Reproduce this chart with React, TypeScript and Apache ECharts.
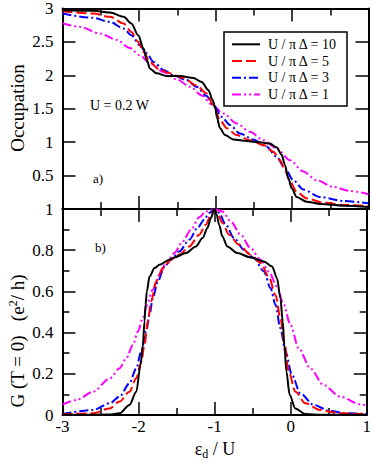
import React, { useEffect, useRef } from "react";
import * as echarts from "echarts";

// ---- Data ----
const seriesNames = ["U / π Δ = 10", "U / π Δ = 5", "U / π Δ = 3", "U / π Δ = 1"];
const seriesColors = ["#000000", "#ff0000", "#0000ff", "#ff00ff"];
const xTickLabels = ["-3", "-2", "-1", "0", "1"];

// Panel a) Occupation
const occ10X = [-3, -2.6, -2.38, -2.2, -2.1, -2.01, -1.94, -1.9, -1.856, -1.77, -1.64, -1.46, -1.29, -1.18, -1.094, -1.037, -1.0, -0.984, -0.941, -0.876, -0.767, -0.59, -0.42, -0.29, -0.2, -0.135, -0.092, -0.048, -0.004, 0.061, 0.19, 0.37, 0.67, 1.0];
const occ10Y = [2.975, 2.965, 2.94, 2.875, 2.775, 2.6, 2.4, 2.23, 2.1, 2.03, 1.99, 1.99, 1.96, 1.9, 1.78, 1.63, 1.5, 1.38, 1.21, 1.106, 1.04, 1.016, 0.997, 0.98, 0.92, 0.81, 0.66, 0.46, 0.31, 0.18, 0.11, 0.075, 0.05, 0.03];

const occ5X = [-3, -2.6, -2.38, -2.2, -2.1, -2.01, -1.94, -1.856, -1.75, -1.6, -1.42, -1.25, -1.115, -1.03, -0.941, -0.854, -0.723, -0.549, -0.375, -0.244, -0.157, -0.092, -0.026, 0.061, 0.19, 0.41, 0.67, 1.0];
const occ5Y = [2.96, 2.925, 2.875, 2.775, 2.65, 2.5, 2.35, 2.2, 2.1, 2.03, 1.96, 1.85, 1.73, 1.555, 1.33, 1.21, 1.106, 1.03, 0.957, 0.857, 0.73, 0.58, 0.41, 0.26, 0.16, 0.095, 0.06, 0.045];

const occ3X = [-3, -2.6, -2.38, -2.2, -2.1, -1.99, -1.9, -1.81, -1.68, -1.53, -1.38, -1.25, -1.115, -1.03, -0.92, -0.81, -0.68, -0.506, -0.331, -0.2, -0.092, 0.017, 0.148, 0.366, 0.671, 1.0];
const occ3Y = [2.925, 2.86, 2.8, 2.7, 2.6, 2.45, 2.33, 2.2, 2.08, 1.99, 1.93, 1.83, 1.69, 1.555, 1.38, 1.256, 1.13, 1.04, 0.93, 0.78, 0.61, 0.43, 0.29, 0.18, 0.12, 0.085];

const occ1X = [-3, -2.77, -2.51, -2.29, -2.12, -1.99, -1.856, -1.68, -1.51, -1.33, -1.18, -1.05, -0.898, -0.723, -0.549, -0.375, -0.2, -0.026, 0.148, 0.323, 0.54, 0.758, 1.0];
const occ1Y = [2.78, 2.725, 2.625, 2.53, 2.41, 2.3, 2.18, 2.05, 1.94, 1.83, 1.7, 1.565, 1.43, 1.28, 1.155, 1.03, 0.907, 0.73, 0.56, 0.43, 0.33, 0.27, 0.22];

// Panel b) Conductance G(T=0)
const g10X = [-3, -2.38, -2.25, -2.12, -2.03, -1.974, -1.943, -1.922, -1.908, -1.891, -1.856, -1.79, -1.725, -1.595, -1.53, -1.376, -1.246, -1.159, -1.094, -1.05, -1.0, -0.975, -0.941, -0.898, -0.833, -0.702, -0.527, -0.353, -0.244, -0.18, -0.135, -0.105, -0.083, -0.057, -0.013, 0.061, 0.192, 0.4, 1.0];
const g10Y = [0.001, 0.002, 0.008, 0.049, 0.113, 0.243, 0.34, 0.454, 0.535, 0.6, 0.672, 0.713, 0.729, 0.754, 0.765, 0.786, 0.818, 0.859, 0.908, 0.956, 1.0, 0.975, 0.924, 0.867, 0.818, 0.786, 0.765, 0.745, 0.721, 0.664, 0.567, 0.454, 0.34, 0.211, 0.097, 0.032, 0.005, 0.001, 0.001];

const g5X = [-3, -2.6, -2.38, -2.25, -2.12, -2.03, -1.965, -1.922, -1.878, -1.834, -1.769, -1.682, -1.573, -1.464, -1.333, -1.203, -1.115, -1.05, -1.0, -0.963, -0.898, -0.81, -0.68, -0.527, -0.396, -0.288, -0.2, -0.135, -0.078, -0.026, 0.061, 0.192, 0.388, 0.65, 1.0];
const g5Y = [0.003, 0.008, 0.032, 0.065, 0.113, 0.178, 0.259, 0.34, 0.454, 0.551, 0.648, 0.713, 0.754, 0.778, 0.818, 0.875, 0.924, 0.972, 1.0, 0.981, 0.932, 0.875, 0.826, 0.778, 0.738, 0.672, 0.583, 0.47, 0.34, 0.211, 0.113, 0.057, 0.024, 0.008, 0.004];

const g3X = [-3, -2.6, -2.38, -2.25, -2.12, -2.03, -1.965, -1.9, -1.856, -1.813, -1.747, -1.66, -1.573, -1.464, -1.333, -1.225, -1.137, -1.072, -1.0, -0.941, -0.854, -0.745, -0.614, -0.484, -0.353, -0.265, -0.2, -0.135, -0.069, 0.017, 0.127, 0.301, 0.519, 0.736, 1.0];
const g3Y = [0.005, 0.024, 0.057, 0.089, 0.154, 0.227, 0.308, 0.405, 0.486, 0.567, 0.648, 0.721, 0.754, 0.794, 0.851, 0.908, 0.948, 0.981, 1.0, 0.981, 0.924, 0.859, 0.802, 0.762, 0.697, 0.616, 0.535, 0.421, 0.308, 0.194, 0.105, 0.049, 0.019, 0.008, 0.005];

const g1X = [-3, -2.815, -2.597, -2.379, -2.248, -2.161, -2.074, -2.009, -1.943, -1.891, -1.813, -1.725, -1.638, -1.529, -1.42, -1.311, -1.203, -1.115, -1.0, -0.898, -0.788, -0.658, -0.527, -0.396, -0.288, -0.18, -0.092, -0.004, 0.105, 0.257, 0.431, 0.65, 0.911, 1.0];
const g1Y = [0.05, 0.073, 0.113, 0.178, 0.227, 0.276, 0.34, 0.405, 0.47, 0.535, 0.608, 0.681, 0.738, 0.786, 0.843, 0.899, 0.96, 0.988, 1.0, 0.988, 0.94, 0.875, 0.81, 0.754, 0.697, 0.624, 0.535, 0.438, 0.324, 0.227, 0.146, 0.089, 0.052, 0.047];

const occX = [occ10X, occ5X, occ3X, occ1X];
const occY = [occ10Y, occ5Y, occ3Y, occ1Y];
const gX = [g10X, g5X, g3X, g1X];
const gY = [g10Y, g5Y, g3Y, g1Y];

const dashes: any[] = ["solid", [10, 4], [9, 3, 2, 3], [9, 3, 2, 3, 2, 3]];

const FONT = "'Liberation Serif', 'DejaVu Serif', serif";

function zip(xs: number[], ys: number[]) {
  return xs.map((x, i) => [x, ys[i]]);
}

export default function App() {
  const ref = useRef<HTMLDivElement>(null);
  useEffect(() => {
    if (!ref.current) return;
    const chart = echarts.init(ref.current, undefined, { renderer: "svg" });

    const axisLine = { show: true, onZero: false, lineStyle: { color: "#000", width: 2 } };
    const tick = { show: true, inside: true, length: 13, lineStyle: { color: "#000", width: 1.5 } };
    const minor = { show: true, splitNumber: 2, length: 7, lineStyle: { color: "#000", width: 1.5 } };

    const xBase = (grid: number, pos: string, labels: boolean) => ({
      type: "value",
      gridIndex: grid,
      position: pos,
      min: -3,
      max: 1,
      interval: 1,
      axisLine,
      axisTick: tick,
      minorTick: minor,
      splitLine: { show: false },
      axisLabel: labels
        ? {
            show: true,
            color: "#000",
            fontSize: 17,
            fontFamily: FONT,
            margin: 3,
            formatter: (v: number) => xTickLabels[Math.round(v) + 3],
          }
        : { show: false },
    });

    const yBase = (grid: number, pos: string, max: number, interval: number, withMinor: boolean, labels: boolean, showMin: boolean) => ({
      type: "value",
      gridIndex: grid,
      position: pos,
      min: 0,
      max,
      interval,
      axisLine,
      axisTick: tick,
      minorTick: withMinor ? minor : { show: false },
      splitLine: { show: false },
      axisLabel: labels
        ? { show: true, color: "#000", fontSize: 17, fontFamily: FONT, margin: 9, showMinLabel: showMin }
        : { show: false },
    });

    const series: any[] = [];
    for (let i = 0; i < 4; i++) {
      const ls = { color: seriesColors[i], width: 2, type: dashes[i] };
      series.push({
        name: seriesNames[i],
        type: "line",
        xAxisIndex: 0,
        yAxisIndex: 0,
        data: zip(occX[i], occY[i]),
        showSymbol: false,
        symbol: "none",
        smooth: 0.3,
        smoothMonotone: "x",
        lineStyle: ls,
        itemStyle: { color: seriesColors[i] },
        z: 10 - i,
      });
    }
    for (let i = 0; i < 4; i++) {
      const ls = { color: seriesColors[i], width: 2, type: dashes[i] };
      series.push({
        name: seriesNames[i],
        type: "line",
        xAxisIndex: 2,
        yAxisIndex: 2,
        data: zip(gX[i], gY[i]),
        showSymbol: false,
        symbol: "none",
        smooth: 0.3,
        smoothMonotone: "x",
        lineStyle: ls,
        itemStyle: { color: seriesColors[i] },
        z: 10 - i,
      });
    }

    // Legend drawn as graphic elements (to keep the dash patterns)
    const legendLeft = 224, legendTop = 32, legendW = 123, legendH = 74;
    const rowY0 = 44.3, rowStep = 16.7;
    const legendEls: any[] = [
      {
        type: "rect",
        shape: { x: legendLeft, y: legendTop, width: legendW, height: legendH },
        style: { fill: "#fff", stroke: "#000", lineWidth: 1.5 },
        z: 100,
      },
    ];
    seriesNames.forEach((name, i) => {
      const y = rowY0 + i * rowStep;
      legendEls.push({
        type: "line",
        shape: { x1: 232, y1: y, x2: 260, y2: y },
        style: {
          stroke: seriesColors[i],
          lineWidth: 2,
          lineDash: dashes[i] === "solid" ? null : dashes[i],
        },
        z: 101,
      });
      legendEls.push({
        type: "text",
        x: 268,
        y,
        style: { text: name, font: `14px ${FONT}`, fill: "#000", align: "left", verticalAlign: "middle" },
        z: 101,
      });
    });

    chart.setOption({
      animation: false,
      backgroundColor: "#fff",
      textStyle: { fontFamily: FONT },
      grid: [
        { left: 62.5, top: 8.5, width: 306, height: 200.5 },
        { left: 62.5, top: 209, width: 306, height: 206 },
      ],
      xAxis: [
        xBase(0, "bottom", false),
        xBase(0, "top", false),
        xBase(1, "bottom", true),
        xBase(1, "top", false),
      ],
      yAxis: [
        yBase(0, "left", 3, 0.5, false, true, false),
        yBase(0, "right", 3, 0.5, false, false, false),
        yBase(1, "left", 1, 0.2, true, true, true),
        yBase(1, "right", 1, 0.2, true, false, false),
      ],
      graphic: [
        ...legendEls,
        {
          type: "text",
          x: 17,
          y: 108,
          rotation: Math.PI / 2,
          style: { text: "Occupation", font: `19px ${FONT}`, fill: "#000", align: "center", verticalAlign: "middle" },
        },
        {
          type: "text",
          x: 17,
          y: 341,
          rotation: Math.PI / 2,
          style: {
            text: "{n|G (T = 0)   (e}{s|2}{n|/ h)}",
            fill: "#000",
            align: "center",
            verticalAlign: "middle",
            rich: {
              n: { fontSize: 19, fontFamily: FONT, fill: "#000" },
              s: { fontSize: 12, fontFamily: FONT, fill: "#000", verticalAlign: "top", padding: [0, 0, 8, 0] },
            },
          },
        },
        {
          type: "text",
          x: 215,
          y: 449,
          style: {
            text: "{n|ε}{d|d}{n| / U}",
            fill: "#000",
            align: "center",
            verticalAlign: "middle",
            rich: {
              n: { fontSize: 18, fontFamily: FONT, fill: "#000" },
              d: { fontSize: 12, fontFamily: FONT, fill: "#000", padding: [10, 0, 0, 0] },
            },
          },
        },
        {
          type: "text",
          x: 90,
          y: 105,
          style: { text: "U = 0.2 W", font: `14px ${FONT}`, fill: "#000", align: "left", verticalAlign: "middle" },
        },
        {
          type: "text",
          x: 93,
          y: 178,
          style: { text: "a)", font: `13px ${FONT}`, fill: "#000", align: "left", verticalAlign: "middle" },
        },
        {
          type: "text",
          x: 95,
          y: 247,
          style: { text: "b)", font: `13px ${FONT}`, fill: "#000", align: "left", verticalAlign: "middle" },
        },
      ],
      series,
    });

    return () => chart.dispose();
  }, []);

  return (
    <div
      ref={ref}
      style={{ position: "fixed", left: 0, top: 0, width: 374, height: 465, background: "#fff" }}
    />
  );
}
